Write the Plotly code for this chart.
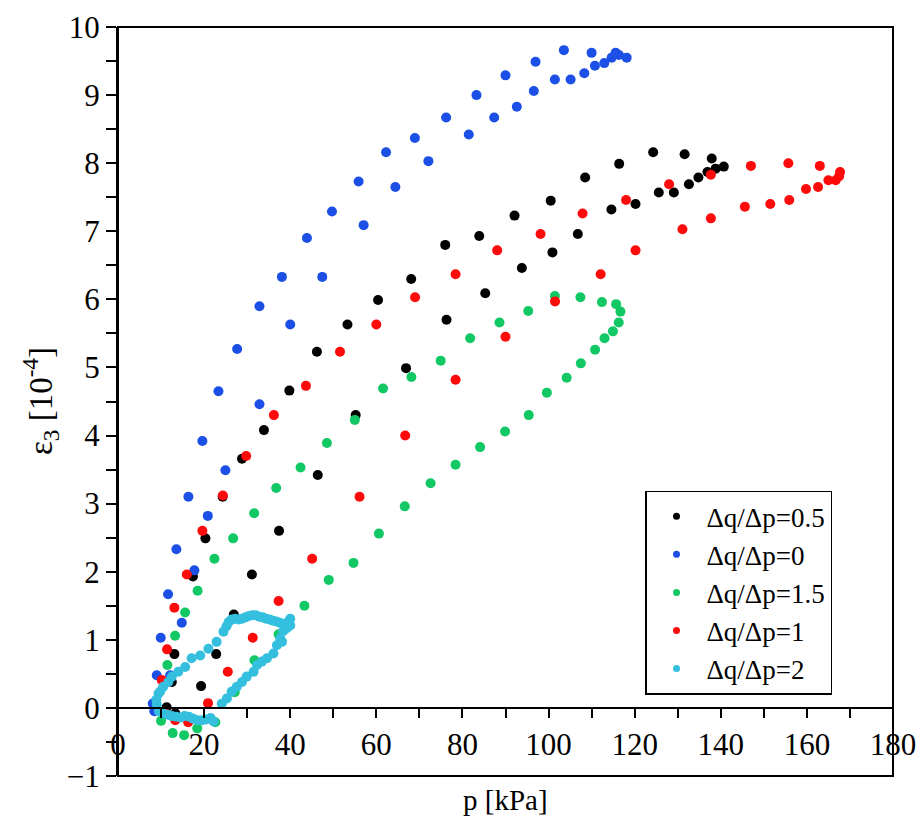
import plotly.graph_objects as go

# Δq/Δp = 0.5 (black)
p_05 = [11.3, 13.3, 12.5, 13.1, 17.4, 20.3, 24.3, 28.8, 33.9, 39.8, 46.2, 53.3, 60.4, 68.1,
        76.0, 83.9, 92.1, 100.5, 108.5, 116.4, 124.3, 131.6, 137.9, 140.7, 138.8, 136.9,
        134.8, 132.6, 129.1, 125.6, 120.2, 114.6, 106.8, 100.9, 93.8, 85.3, 76.3, 66.9,
        55.2, 46.4, 37.4, 31.1, 26.9, 22.8, 19.3]
e_05 = [0.01, -0.08, 0.38, 0.79, 1.93, 2.49, 3.10, 3.66, 4.08, 4.66, 5.23, 5.63, 5.99, 6.30,
        6.80, 6.93, 7.23, 7.45, 7.79, 7.99, 8.16, 8.13, 8.07, 7.95, 7.92, 7.87,
        7.79, 7.69, 7.57, 7.57, 7.40, 7.32, 6.96, 6.69, 6.46, 6.09, 5.70, 4.99,
        4.30, 3.42, 2.60, 1.96, 1.37, 0.79, 0.32]

# Δq/Δp = 0 (blue)
p_0 = [8.07, 8.44, 9.0, 12.1, 11.63, 13.56, 16.35, 19.6, 23.33, 27.67, 32.86, 38.07, 43.88,
       49.7, 55.88, 62.26, 68.95, 76.21, 83.26, 90.0, 96.98, 103.56, 110.0, 115.58,
       118.14, 116.35, 114.65, 112.95, 110.77, 108.3, 105.12, 101.47, 96.58, 92.63,
       87.37, 81.47, 72.09, 64.42, 57.05, 47.44, 40.0, 32.86, 24.95, 20.86, 17.74,
       14.81, 9.93]
e_0 = [0.065, -0.05, 0.48, 0.48, 1.67, 2.33, 3.10, 3.92, 4.65, 5.27, 5.90, 6.33, 6.90,
       7.29, 7.73, 8.16, 8.37, 8.67, 9.00, 9.29, 9.49, 9.66, 9.62, 9.62,
       9.55, 9.59, 9.55, 9.47, 9.43, 9.32, 9.23, 9.23, 9.06, 8.83,
       8.67, 8.42, 8.03, 7.65, 7.09, 6.33, 5.63, 4.46, 3.49, 2.82, 2.02,
       1.25, 1.03]

# Δq/Δp = 1.5 (green)
p_15 = [10.0, 11.47, 13.26, 15.58, 18.49, 22.4, 26.74, 31.63, 36.74, 42.4, 48.53, 55.0,
        61.56, 68.14, 74.95, 81.79, 88.6, 95.28, 101.47, 107.4, 112.4, 115.7, 116.7,
        116.3, 114.95, 113.0, 110.8, 107.5, 104.2, 99.6, 95.4, 89.9, 84.1, 78.4, 72.6,
        66.6, 60.6, 54.7, 48.95, 43.3, 37.3, 31.7, 27.1, 22.6, 18.4, 15.35, 12.7]
e_15 = [-0.19, 0.63, 1.06, 1.40, 1.72, 2.19, 2.49, 2.86, 3.23, 3.53, 3.89, 4.23,
        4.69, 4.86, 5.10, 5.43, 5.66, 5.83, 6.05, 6.03, 5.96, 5.93, 5.82,
        5.66, 5.53, 5.43, 5.26, 5.06, 4.85, 4.63, 4.30, 4.06, 3.83, 3.57, 3.30,
        2.96, 2.56, 2.13, 1.88, 1.50, 1.08, 0.70, 0.23, -0.21, -0.30, -0.40, -0.37]

# Δq/Δp = 1 (red)
p_1 = [10.16, 11.4, 13.09, 15.98, 19.6, 24.35, 29.77, 36.21, 43.65, 51.56, 60.0, 69.0,
       78.4, 88.07, 98.14, 107.9, 118.0, 128.0, 137.7, 147.0, 155.7, 163.0, 167.7,
       167.5, 166.7, 165.0, 162.6, 159.8, 155.9, 151.5, 145.6, 137.7, 131.1, 120.2,
       112.1, 101.5, 90.0, 78.4, 66.7, 56.1, 45.1, 37.3, 31.3, 25.5, 20.9, 16.3,
       13.3, 11.2]
e_1 = [0.41, 0.86, 1.47, 1.96, 2.60, 3.12, 3.70, 4.30, 4.73, 5.23, 5.63, 6.03,
       6.37, 6.72, 6.96, 7.26, 7.46, 7.69, 7.83, 7.96, 8.00, 7.96, 7.87,
       7.81, 7.75, 7.75, 7.65, 7.62, 7.46, 7.40, 7.36, 7.19, 7.03, 6.72,
       6.37, 5.97, 5.45, 4.82, 4.00, 3.10, 2.19, 1.57, 1.03, 0.53, 0.07, -0.21,
       -0.18, -0.09]

# Δq/Δp = 2 (cyan)
p_2 = [9.0, 9.5, 10.5, 11.5, 12.5, 13.5, 14.5, 15.5, 16.5, 17.5, 18.5, 19.5, 20.5, 21.5,
       22.2, 24.1, 25.3, 26.4, 27.6, 28.8, 29.9, 31.5, 32.3, 33.4, 34.6, 36.1, 36.9,
       37.7, 38.1, 38.4, 39.2, 40.0, 40.0, 39.2, 38.4, 37.6, 36.8, 36.0, 35.2, 34.4,
       33.6, 32.8, 32.0, 31.2, 30.4, 29.6, 28.8, 28.0, 27.2, 26.4, 25.7, 25.2, 24.5,
       22.9, 21.0, 19.1, 17.1, 15.6, 14.0, 12.5, 11.7, 10.5, 9.8, 9.4, 8.9]
e_2 = [0.05, -0.05, -0.08, -0.10, -0.12, -0.13, -0.14, -0.12, -0.13, -0.16, -0.18, -0.18,
       -0.17, -0.15, -0.20, 0.06, 0.14, 0.24, 0.31, 0.38, 0.46, 0.53, 0.63, 0.68, 0.73,
       0.80, 0.92, 1.02, 0.97, 1.13, 1.17, 1.21, 1.31, 1.25, 1.23, 1.25, 1.27, 1.28,
       1.30, 1.31, 1.33, 1.34, 1.36, 1.36, 1.35, 1.33, 1.31, 1.30, 1.31, 1.30, 1.26,
       1.20, 1.12, 0.97, 0.87, 0.77, 0.73, 0.60, 0.53, 0.46, 0.38, 0.31, 0.24, 0.21, 0.12]

series = [
    ("Δq/Δp=0.5", p_05, e_05, "#000000"),
    ("Δq/Δp=0", p_0, e_0, "#1c4fe6"),
    ("Δq/Δp=1.5", p_15, e_15, "#12c864"),
    ("Δq/Δp=1", p_1, e_1, "#ff0a0a"),
    ("Δq/Δp=2", p_2, e_2, "#34bfdf"),
]

FONT = "Liberation Serif"
fig = go.Figure()
for name, xs, ys, col in series:
    fig.add_trace(go.Scatter(x=xs, y=ys, mode="markers", name=name, showlegend=False,
                             marker=dict(color=col, size=10, line=dict(width=0))))
for name, xs, ys, col in series:
    fig.add_trace(go.Scatter(x=[None], y=[None], mode="markers", name=name,
                             marker=dict(color=col, size=7)))

fig.update_layout(
    width=924, height=822,
    margin=dict(l=118, r=31, t=27, b=46),
    plot_bgcolor="white", paper_bgcolor="white",
    font=dict(family=FONT, color="black", size=30),
    showlegend=True,
    legend=dict(x=0.68, y=0.381, xanchor="left", yanchor="top",
                bordercolor="black", borderwidth=1.5, bgcolor="white",
                font=dict(family=FONT, size=27, color="black"),
                itemwidth=50, tracegroupgap=0),
    xaxis=dict(range=[0, 180], dtick=20, tick0=0, anchor="free", position=1/11,
               automargin=False,
               showline=True, linecolor="black", linewidth=2,
               ticks="outside", ticklen=9, tickwidth=2, tickcolor="black",
               minor=dict(dtick=10, ticks="outside", ticklen=9, tickwidth=2, tickcolor="black"),
               showgrid=False, zeroline=False,
               tickfont=dict(family=FONT, size=31, color="black")),
    yaxis=dict(range=[-1, 10], dtick=1, tick0=0, automargin=False,
               showline=True, linecolor="black", linewidth=2,
               ticks="outside", ticklen=10, tickwidth=2, tickcolor="black",
               minor=dict(dtick=0.5, ticks="outside", ticklen=10, tickwidth=2, tickcolor="black"),
               showgrid=False, zeroline=False,
               tickfont=dict(family=FONT, size=31, color="black")),
    shapes=[dict(type="rect", xref="paper", yref="paper", x0=0, x1=1, y0=0, y1=1,
                 line=dict(color="black", width=2))],
    annotations=[
        dict(text="p [kPa]", xref="paper", yref="paper", x=0.5, y=-0.032,
             xanchor="center", yanchor="middle", showarrow=False,
             font=dict(family=FONT, size=29, color="black")),
        dict(text="ε<sub>3</sub> [10<sup>-4</sup>]", xref="paper", yref="paper",
             x=-0.1, y=0.5, xanchor="center", yanchor="middle", textangle=-90,
             showarrow=False, font=dict(family=FONT, size=33, color="black")),
    ],
)

fig.write_html("out.html", config={"displayModeBar": False},
               post_script="document.body.style.margin='0';document.body.style.padding='0';")
